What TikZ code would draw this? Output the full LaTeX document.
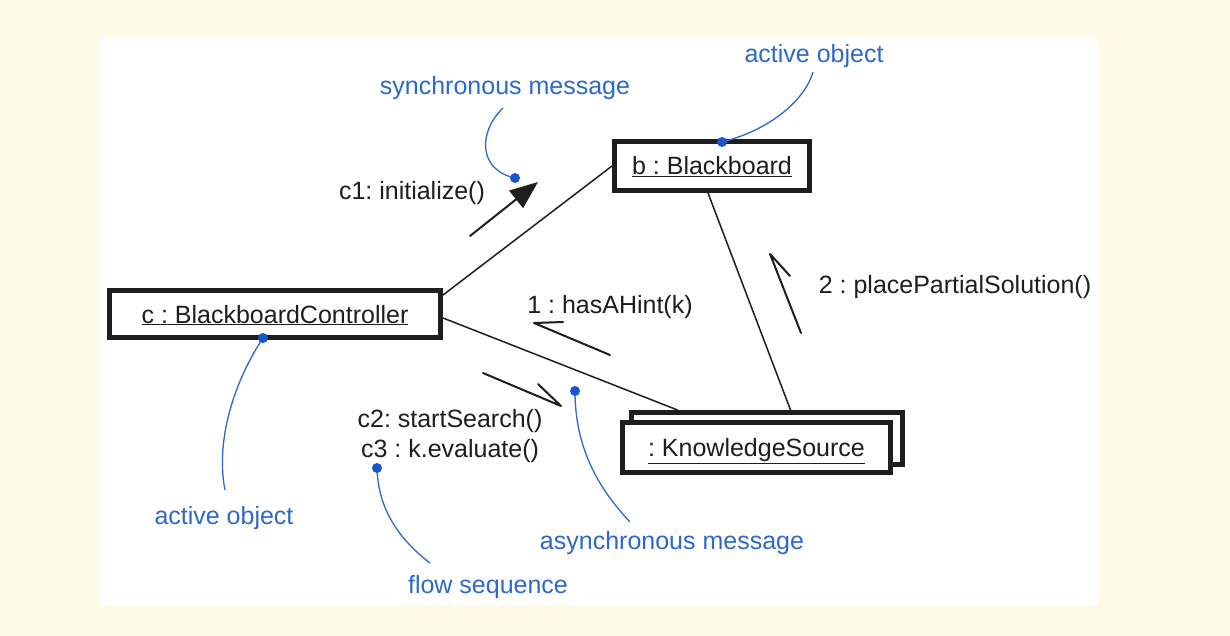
\documentclass[tikz,border=0pt]{standalone}
\usepackage{fontspec}
\setmainfont{Liberation Sans}
\usetikzlibrary{arrows.meta,calc}
\definecolor{cream}{RGB}{255,250,232}
\definecolor{lblue}{RGB}{45,105,200}
\definecolor{dblue}{RGB}{25,85,205}
\definecolor{ink}{RGB}{30,30,30}
\frenchspacing
\tikzset{
  obj/.style={draw=ink, line width=5pt, fill=white, inner sep=0pt,
    text height=22pt, text depth=4pt, font=\fontsize{25}{30}\selectfont, text=ink},
  lbl/.style={font=\fontsize{25}{30}\selectfont, text=ink, anchor=base, inner sep=0pt},
  note/.style={lbl, text=lblue},
  link/.style={draw=ink, line width=1.5pt},
  msg/.style={draw=ink, line width=2pt, line join=round, line cap=round},
  callout/.style={draw=lblue, line width=1.3pt},
  dot/.style={circle, fill=dblue, inner sep=0pt, minimum size=10pt}
}
\begin{document}
\begin{tikzpicture}[x=1pt,y=-1pt]
\fill[cream] (0,0) rectangle (1230,636);
\fill[white] (100,38) rectangle (1098,605);

% objects
\node[obj, minimum width=331pt, minimum height=47pt] (c) at (275,314) {\underline{c : BlackboardController}};
\node[obj, minimum width=195pt, minimum height=49pt] (b) at (712,166) {\underline{b : Blackboard}};
\node[obj, minimum width=271pt, minimum height=52pt] (ksb) at (767,438.5) {};
\node[obj, minimum width=268pt, minimum height=50pt] (ks) at (756.5,447.5) {\underline{: KnowledgeSource}};

% links
\draw[link] ($(c.east)+(0,-19)$) -- (b.west);
\draw[link] ($(c.east)+(0,4)$) -- ($(ksb.north west)+(48.5,0)$);
\draw[link] ($(b.south)+(-4,0)$) -- ($(ksb.north west)+(161.5,0)$);

% messages
\coordinate (m1s) at (470,236); \coordinate (m1e) at (538,182);
\draw[msg, -{Triangle[length=28pt,width=22pt]}] (m1s) -- (m1e);
\coordinate (a1s) at (610,355); \coordinate (a1e) at (534,323); \coordinate (a1b) at (563,322);
\draw[msg] (a1s) -- (a1e) -- (a1b);
\coordinate (a2s) at (483,373); \coordinate (a2e) at (561,406); \coordinate (a2b) at (538,384);
\draw[msg] (a2s) -- (a2e) -- (a2b);
\coordinate (a3s) at (801,333); \coordinate (a3e) at (770,254); \coordinate (a3b) at (790,276);
\draw[msg] (a3s) -- (a3e) -- (a3b);

% message labels
\node[lbl] (t1) at (412,200) {c1: initialize()};
\node[lbl] (t2) at (610,313) {1 : hasAHint(k)};
\node[lbl] (t3) at (955,293) {2 : placePartialSolution()};
\node[lbl] (t4) at (450,427) {c2: startSearch()};
\node[lbl] (t5) at (450,457) {c3 : k.evaluate()};

% notes
\node[note] (n1) at (814,63) {active object};
\node[note] (n2) at (505,95) {synchronous message};
\node[note] (n3) at (224,524) {active object};
\node[note] (n4) at (672,549) {asynchronous message};
\node[note] (n5) at (488,593) {flow sequence};

% callouts
\coordinate (p1) at (722,142); \coordinate (e1) at (813,72);
\coordinate (p2) at (515,178); \coordinate (e2) at (503,108);
\coordinate (p3) at (263,338); \coordinate (e3) at (225,490);
\coordinate (p4) at (575,391); \coordinate (e4) at (630,522);
\coordinate (p5) at (377,468); \coordinate (e5) at (430,563);
\draw[callout] (p1) .. controls (770,130) and (805,100) .. (e1);
\draw[callout] (e2) .. controls (478,132) and (478,170) .. (p2);
\draw[callout] (p3) .. controls (235,380) and (215,440) .. (e3);
\draw[callout] (p4) .. controls (575,450) and (600,490) .. (e4);
\draw[callout] (p5) .. controls (378,510) and (400,540) .. (e5);
\node[dot] (d1) at (p1) {};
\node[dot] (d2) at (p2) {};
\node[dot] (d3) at (p3) {};
\node[dot] (d4) at (p4) {};
\node[dot] (d5) at (p5) {};
\end{tikzpicture}
\end{document}
